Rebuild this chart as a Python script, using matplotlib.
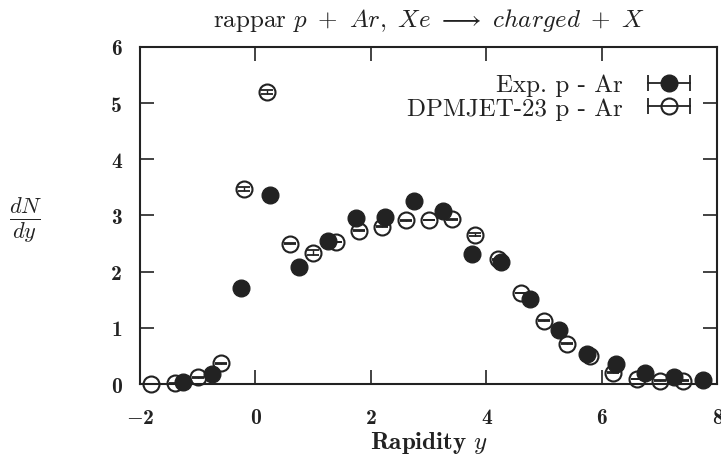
import matplotlib
matplotlib.use("Agg")
import matplotlib.pyplot as plt
from matplotlib.lines import Line2D
from matplotlib.legend_handler import HandlerLine2D

plt.rcParams["mathtext.fontset"] = "cm"

# ── Data ─────────────────────────────────────────────────────
# experimental p - Ar, charged particle dN/dy
exp_y = [-1.25, -0.75, -0.25, 0.25, 0.75, 1.25, 1.75, 2.25, 2.75, 3.25,
         3.75, 4.25, 4.75, 5.25, 5.75, 6.25, 6.75, 7.25, 7.75]
exp_dndy = [0.04, 0.18, 1.70, 3.36, 2.09, 2.55, 2.96, 2.98, 3.26, 3.08,
            2.31, 2.17, 1.51, 0.96, 0.53, 0.36, 0.20, 0.13, 0.08]
exp_err = [0.01] * len(exp_y)

# DPMJET-2.3 p - Ar
dpm_y = [-1.8, -1.4, -1.0, -0.6, -0.2, 0.2, 0.6, 1.0, 1.4, 1.8, 2.2, 2.6,
         3.0, 3.4, 3.8, 4.2, 4.6, 5.0, 5.4, 5.8, 6.2, 6.6, 7.0, 7.4]
dpm_dndy = [0.00, 0.01, 0.12, 0.37, 3.47, 5.20, 2.50, 2.34, 2.53, 2.73, 2.80, 2.91,
            2.92, 2.93, 2.66, 2.22, 1.62, 1.13, 0.72, 0.50, 0.20, 0.09, 0.06, 0.06]
dpm_err = [0.005, 0.005, 0.005, 0.005, 0.04, 0.04, 0.005, 0.04, 0.005, 0.005, 0.005, 0.005,
           0.005, 0.005, 0.02, 0.005, 0.005, 0.005, 0.005, 0.005, 0.005, 0.005, 0.005, 0.005]

xticks = [-2, 0, 2, 4, 6, 8]
yticks = [0, 1, 2, 3, 4, 5, 6]

ink = "#222222"


def tick_text(v):
    return "$-$%d" % -v if v < 0 else "%d" % v


# ── Figure ───────────────────────────────────────────────────
fig = plt.figure(figsize=(7.21, 4.60), dpi=100)
ax = fig.add_axes([0.194, 0.163, 0.801, 0.733])

# model: open circles, error caps drawn over the white face
ax.plot(dpm_y, dpm_dndy, ls="none", marker="o", ms=11.5, mfc="white",
        mec=ink, mew=1.5, zorder=2, clip_on=False)
ax.errorbar(dpm_y, dpm_dndy, yerr=dpm_err, fmt="none", ecolor=ink,
            elinewidth=1.0, capsize=4.6, capthick=1.3, zorder=2.5, clip_on=False)

# data: filled circles on top
ax.plot(exp_y, exp_dndy, ls="none", marker="o", ms=12, color=ink,
        zorder=3, clip_on=False)
ax.errorbar(exp_y, exp_dndy, yerr=exp_err, fmt="none", ecolor=ink,
            elinewidth=1.0, capsize=4.6, capthick=1.3, zorder=3.5, clip_on=False)

ax.set_xlim(-2, 8)
ax.set_ylim(0, 6)
ax.set_xticks(xticks, labels=[tick_text(t) for t in xticks])
ax.set_yticks(yticks, labels=[tick_text(t) for t in yticks])
ax.tick_params(direction="in", length=10, width=1.2, top=True, right=True,
               labelsize=15.5, colors=ink)
ax.tick_params(axis="x", pad=17)
ax.tick_params(axis="y", pad=13)
for lbl in ax.get_xticklabels() + ax.get_yticklabels():
    lbl.set_family("cmb10")
for sp in ax.spines.values():
    sp.set_linewidth(1.5)
    sp.set_color(ink)

ax.set_xlabel(r"Rapidity $y$", family="cmb10", fontsize=18, color=ink,
              labelpad=2)
fig.text(0.035, 0.522, r"$\frac{dN}{dy}$", fontsize=23, color=ink,
         ha="center", va="center")
ax.set_title(r"rappar $p\ +\ Ar,\ Xe\ \longrightarrow\ charged\ +\ X$",
             family="cmr10", fontsize=18, color=ink, pad=15)

# legend samples: marker with a horizontal capped bar
bar = Line2D([], [], color=ink, lw=1.3, marker="|", ms=12, mew=1.3)
exp_mk = Line2D([], [], ls="none", marker="o", ms=12, color=ink)
dpm_mk = Line2D([], [], ls="none", marker="o", ms=11.5, mfc="none",
                mec=ink, mew=1.5)
leg = ax.legend([(exp_mk, bar), (dpm_mk, bar)],
                ["Exp. p - Ar", "DPMJET-23 p - Ar"],
                handler_map={bar: HandlerLine2D(numpoints=2, marker_pad=0)},
                loc="upper right", bbox_to_anchor=(0.953, 0.92),
                markerfirst=False, frameon=False, borderaxespad=0, borderpad=0,
                handlelength=1.7, handletextpad=1.0, labelspacing=0.05,
                prop={"family": "cmr10", "size": 18})
for t in leg.get_texts():
    t.set_color(ink)

fig.savefig("out.png", dpi=100)
plt.close(fig)
